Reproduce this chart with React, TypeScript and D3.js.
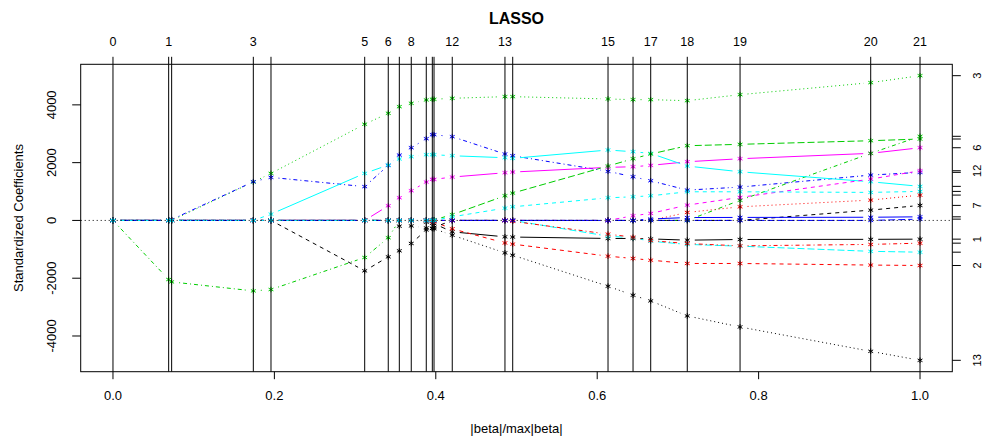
import React, { useRef, useEffect } from 'react';
import * as d3 from 'd3';

// breakpoints of the lasso path (|beta|/max|beta|)
const steps = [0, 0.069, 0.0727, 0.1739, 0.1958, 0.3119, 0.3411, 0.3548, 0.3696, 0.3882, 0.3957, 0.3978, 0.4204, 0.4857, 0.4953, 0.6134, 0.6444, 0.6663, 0.7116, 0.777, 0.9389, 1.0];
const stepLabels = ['0', '1', '2', '3', '4', '5', '6', '7', '8', '9', '10', '11', '12', '13', '14', '15', '16', '17', '18', '19', '20', '21'];
const shownStepLabels = ['0', '1', '3', '5', '6', '8', '12', '13', '15', '17', '18', '19', '20', '21'];

// standardized coefficients, one array per variable, one value per breakpoint
const v1 = [0, 0, 0, 0, 0, 0, 0, 0, 0, -60, -100, -110, -395, -568, -575, -624, -624, -640, -683, -660, -655, -648];
const v2 = [0, 0, 0, 0, 0, 0, 0, 0, 0, 0, -40, -50, -290, -780, -820, -1237, -1317, -1376, -1490, -1490, -1545, -1560];
const v3 = [0, 0, 0, 1330, 1629, 3330, 3709, 3937, 4055, 4170, 4194, 4194, 4228, 4284, 4284, 4204, 4180, 4180, 4145, 4353, 4769, 5010];
const v4 = [0, 0, 30, 1340, 1490, 1170, 1906, 2263, 2516, 2828, 2967, 2967, 2898, 2298, 2239, 1700, 1511, 1373, 1050, 1154, 1570, 1664];
const v5 = [0, 0, 0, 0, 0, 0, 0, 0, 0, 0, 0, 0, 0, 0, 0, -544, -600, -720, -830, -891, -1070, -1099];
const v6 = [0, 0, 0, 0, 0, 0, 507, 784, 1027, 1328, 1421, 1421, 1501, 1650, 1674, 1837, 1858, 1906, 2031, 2135, 2322, 2516];
const v7 = [0, 0, 0, 0, 0, -1745, -1261, -1053, -797, -330, -270, -240, 0, 0, 0, 0, 0, 0, 0, 0, 357, 520];
const v8 = [0, 0, 0, 0, 0, 0, 0, 0, 0, 0, 0, 0, 0, 0, 0, 0, 0, 0, 277, 471, 704, 877];
const v9 = [0, -2045, -2128, -2440, -2392, -1283, -600, 0, 0, 0, 0, 0, 0, 0, 0, 0, 0, 0, 0, 697, 2322, 2912];
const v10 = [0, 0, 0, 0, 0, 0, 0, 0, 0, 0, 0, 0, 0, 0, 0, 0, 0, 0, 0, 0, 0, 45];
const v11 = [0, 0, 0, 0, 218, 1629, 1917, 2125, 2205, 2274, 2274, 2274, 2239, 2170, 2149, 2437, 2378, 2320, 1882, 1684, 1338, 1179];
const v12 = [0, 0, 0, 0, 0, 0, 0, 0, 0, 0, 0, 0, 0, 0, 0, 0, 160, 243, 530, 797, 1431, 1719];
const v13 = [0, 0, 0, 0, 0, 0, 0, -198, -190, -260, -280, -290, -510, -1123, -1203, -2277, -2589, -2786, -3306, -3687, -4530, -4842];
const v14 = [0, 0, 0, 0, 0, 0, 0, 0, 0, 0, 0, 0, 0, 0, -30, -475, -580, -700, -800, -880, -830, -787];
const v15 = [0, 0, 0, 0, 0, 0, 0, 0, 0, 0, 0, 20, 200, 853, 946, 1882, 2135, 2298, 2586, 2634, 2759, 2818];
const v16 = [0, 0, 0, 0, 0, 0, 0, 0, 0, 0, 0, 0, 0, 0, 0, 0, 0, 50, 100, 104, 110, 125];
const v17 = [0, 0, 0, 0, 0, 0, 0, 0, 0, 0, 0, 0, 125, 426, 471, 783, 818, 853, 991, 991, 970, 1005];

const coefs = [v1, v2, v3, v4, v5, v6, v7, v8, v9, v10, v11, v12, v13, v14, v15, v16, v17];
const varLabels = ['1', '2', '3', '4', '5', '6', '7', '8', '9', '10', '11', '12', '13', '14', '15', '16', '17'];
const shownVarLabels = ['1', '2', '3', '6', '7', '12', '13'];

const yTicks = [-4000, -2000, 0, 2000, 4000];
const xTicks = [0, 0.2, 0.4, 0.6, 0.8, 1.0];

const palette = ['#000000', '#FF0000', '#00CD00', '#0000FF', '#00FFFF', '#FF00FF'];
const dashes = [null, '4,4', '1,3', '1,3,4,3', '7,3'];

const font = '"Liberation Sans", Arial, sans-serif';

const App = () => {
  const ref = useRef<SVGSVGElement>(null);

  useEffect(() => {
    const svg = d3.select(ref.current);
    svg.selectAll('*').remove();

    const box = { left: 80.7, right: 952.3, top: 64.3, bottom: 371.7 };

    const x = d3.scaleLinear().domain([-0.04, 1.04]).range([box.left, box.right]);
    const all = coefs.flat();
    const lo = d3.min(all)!, hi = d3.max(all)!;
    const pad = (hi - lo) * 0.04;
    const y = d3.scaleLinear().domain([lo - pad, hi + pad]).range([box.bottom, box.top]);

    const g = svg.append('g');
    const gap = 7.5;

    // paths, type "b": segments broken around the points
    coefs.forEach((vals, j) => {
      const col = palette[j % 6];
      const lty = dashes[j % 5];
      const pts = vals.map((v, i) => [x(steps[i]), y(v)]);
      for (let i = 0; i < pts.length - 1; i++) {
        const [x0, y0] = pts[i];
        const [x1, y1] = pts[i + 1];
        const len = Math.hypot(x1 - x0, y1 - y0);
        if (len <= 2 * gap) continue;
        const ux = (x1 - x0) / len, uy = (y1 - y0) / len;
        g.append('line')
          .attr('x1', x0 + ux * gap).attr('y1', y0 + uy * gap)
          .attr('x2', x1 - ux * gap).attr('y2', y1 - uy * gap)
          .attr('stroke', col).attr('stroke-width', 1)
          .attr('stroke-dasharray', lty);
      }
      const r = 2.8;
      pts.forEach(([px, py]) => {
        g.append('path')
          .attr('d', `M${px},${py - r}L${px},${py + r}M${px - r * 0.87},${py - r * 0.5}L${px + r * 0.87},${py + r * 0.5}M${px - r * 0.87},${py + r * 0.5}L${px + r * 0.87},${py - r * 0.5}`)
          .attr('stroke', col).attr('stroke-width', 1).attr('fill', 'none');
      });
    });

    // zero line
    svg.append('line')
      .attr('x1', box.left).attr('x2', box.right)
      .attr('y1', y(0)).attr('y2', y(0))
      .attr('stroke', '#000').attr('stroke-dasharray', '1,3');

    // breaks
    steps.forEach((s) => {
      svg.append('line')
        .attr('x1', x(s)).attr('x2', x(s))
        .attr('y1', box.top).attr('y2', box.bottom)
        .attr('stroke', '#000').attr('stroke-width', 1);
    });

    // box
    svg.append('rect')
      .attr('x', box.left).attr('y', box.top)
      .attr('width', box.right - box.left).attr('height', box.bottom - box.top)
      .attr('fill', 'none').attr('stroke', '#000');

    // bottom axis
    xTicks.forEach((t) => {
      svg.append('line').attr('x1', x(t)).attr('x2', x(t)).attr('y1', box.bottom).attr('y2', box.bottom + 7.5).attr('stroke', '#000');
      svg.append('text').attr('x', x(t)).attr('y', 400).attr('text-anchor', 'middle')
        .attr('font-family', font).attr('font-size', 13).text(t.toFixed(1));
    });

    // left axis
    yTicks.forEach((t) => {
      svg.append('line').attr('x1', box.left - 8.5).attr('x2', box.left).attr('y1', y(t)).attr('y2', y(t)).attr('stroke', '#000');
      svg.append('text').attr('transform', `translate(55.5,${y(t)}) rotate(-90)`).attr('text-anchor', 'middle')
        .attr('font-family', font).attr('font-size', 13).text(String(t));
    });

    // top axis: step numbers
    steps.forEach((s, i) => {
      svg.append('line').attr('x1', x(s)).attr('x2', x(s)).attr('y1', box.top - 7.5).attr('y2', box.top).attr('stroke', '#000');
      if (shownStepLabels.includes(stepLabels[i])) {
        svg.append('text').attr('x', x(s)).attr('y', 46).attr('text-anchor', 'middle')
          .attr('font-family', font).attr('font-size', 12.5).text(stepLabels[i]);
      }
    });

    // right axis: variable numbers at the final coefficients
    coefs.forEach((vals, j) => {
      const yy = y(vals[vals.length - 1]);
      svg.append('line').attr('x1', box.right).attr('x2', box.right + 8.5).attr('y1', yy).attr('y2', yy).attr('stroke', '#000');
      if (shownVarLabels.includes(varLabels[j])) {
        svg.append('text').attr('transform', `translate(981,${yy}) rotate(-90)`).attr('text-anchor', 'middle')
          .attr('font-family', font).attr('font-size', 11).text(varLabels[j]);
      }
    });

    // titles
    svg.append('text').attr('x', (box.left + box.right) / 2).attr('y', 24).attr('text-anchor', 'middle')
      .attr('font-family', font).attr('font-size', 16).attr('font-weight', 'bold').text('LASSO');
    svg.append('text').attr('x', (box.left + box.right) / 2).attr('y', 433).attr('text-anchor', 'middle')
      .attr('font-family', font).attr('font-size', 13).text('|beta|/max|beta|');
    svg.append('text').attr('transform', `translate(22.5,${(box.top + box.bottom) / 2}) rotate(-90)`).attr('text-anchor', 'middle')
      .attr('font-family', font).attr('font-size', 13).text('Standardized Coefficients');
  }, []);

  return <svg ref={ref} width={984} height={438} style={{ position: 'absolute', left: 0, top: 0, background: '#fff' }} />;
};

export default App;
